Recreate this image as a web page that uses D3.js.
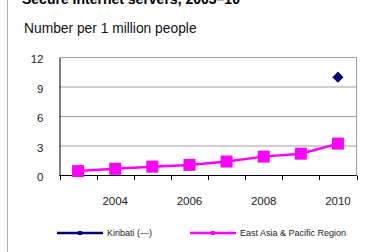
<!DOCTYPE html>
<html>
<head>
<meta charset="utf-8">
<script src="https://cdn.jsdelivr.net/npm/d3@7/dist/d3.min.js"></script>
<style>
  body { margin: 0; background: #fff; }
  svg text { font-family: "Liberation Sans", Arial, sans-serif; }
</style>
</head>
<body>
<div id="chart"></div>
<script>
// Chart data
var years = ['2003', '2004', '2005', '2006', '2007', '2008', '2009', '2010'];
var eastAsia = [0.45, 0.68, 0.9, 1.08, 1.42, 1.92, 2.22, 3.24];
var kiribati = [null, null, null, null, null, null, null, 10.0];
var yTicks = [0, 3, 6, 9, 12];
var xLabels = ['2004', '2006', '2008', '2010'];

var W = 368, H = 252;
var svg = d3.select('#chart').append('svg')
            .attr('width', W)
            .attr('height', H);

// left border of the panel
svg.append('line')
   .attr('x1', 7.5).attr('x2', 7.5)
   .attr('y1', 0).attr('y2', H)
   .attr('stroke', '#b0b0b0');

// title (cut at top, like the original) + subtitle
svg.append('text')
   .attr('x', 22).attr('y', 4)
   .attr('font-size', '14px')
   .attr('font-weight', 'bold')
   .text('Secure Internet servers, 2003–10');

svg.append('text')
   .attr('x', 24).attr('y', 33)
   .attr('font-size', '13.8px')
   .attr('fill', '#111')
   .text('Number per 1 million people');

var x = d3.scaleBand().domain(years).range([59.5, 356.5]);
var y = d3.scaleLinear().domain([0, 12]).range([175.5, 57.5]);

// gridlines
svg.append('g').selectAll('line')
   .data(yTicks.filter(d => d > 0))
   .join('line')
   .attr('x1', 59.5).attr('x2', 356.5)
   .attr('y1', d => y(d)).attr('y2', d => y(d))
   .attr('stroke', '#a0a0a0');

// right frame
svg.append('line')
   .attr('x1', 356.5).attr('x2', 356.5)
   .attr('y1', y(12)).attr('y2', y(0))
   .attr('stroke', '#a0a0a0');

// y axis
var yAxis = svg.append('g')
   .attr('transform', 'translate(59.5,0)')
   .call(d3.axisLeft(y).tickValues(yTicks).tickSize(0).tickPadding(16));
yAxis.select('.domain').attr('stroke', '#000');
yAxis.selectAll('text')
     .attr('font-size', '11.5px')
     .attr('fill', '#222')
     .attr('dy', '0.45em')
     .attr('font-family', '"Liberation Sans", Arial, sans-serif');

// x axis: ticks between bands
var xa = svg.append('g');
xa.append('line')
  .attr('x1', 59.5).attr('x2', 356.5)
  .attr('y1', 175.5).attr('y2', 175.5)
  .attr('stroke', '#000');
xa.selectAll('line.tk')
  .data(years.concat(['end']))
  .join('line')
  .attr('class', 'tk')
  .attr('x1', (d, i) => Math.round(59.5 + i * x.bandwidth()) + 0.5)
  .attr('x2', (d, i) => Math.round(59.5 + i * x.bandwidth()) + 0.5)
  .attr('y1', 175.5).attr('y2', 180)
  .attr('stroke', '#000');
xa.selectAll('text')
  .data(xLabels)
  .join('text')
  .attr('x', d => x(d) + x.bandwidth() / 2)
  .attr('y', 205)
  .attr('text-anchor', 'middle')
  .attr('font-size', '11.5px')
  .attr('fill', '#222')
  .text(d => d);

// East Asia line + markers
var pts = years.map((d, i) => ({ yr: d, v: eastAsia[i] }));
var line = d3.line()
             .x(d => x(d.yr) + x.bandwidth() / 2)
             .y(d => y(d.v));
svg.append('path')
   .datum(pts)
   .attr('d', line)
   .attr('fill', 'none')
   .attr('stroke', '#ff00ff')
   .attr('stroke-width', 2.5);
svg.append('g').selectAll('rect')
   .data(pts)
   .join('rect')
   .attr('x', d => x(d.yr) + x.bandwidth() / 2 - 6)
   .attr('y', d => y(d.v) - 6)
   .attr('width', 12).attr('height', 12)
   .attr('fill', '#ff00ff');

// Kiribati point
var kpts = years.map((d, i) => ({ yr: d, v: kiribati[i] })).filter(d => d.v != null);
svg.append('g').selectAll('path')
   .data(kpts)
   .join('path')
   .attr('d', d3.symbol().type(d3.symbolDiamond2).size(80))
   .attr('transform', d => 'translate(' + (x(d.yr) + x.bandwidth() / 2) + ',' + y(d.v) + ')')
   .attr('fill', '#000080');

// legend
var legend = [
  { name: 'Kiribati (—)', color: '#000080', x0: 57 },
  { name: 'East Asia & Pacific Region', color: '#ff00ff', x0: 190 }
];
var lg = svg.append('g').selectAll('g')
   .data(legend)
   .join('g')
   .attr('transform', d => 'translate(' + d.x0 + ',233)');
lg.append('line')
  .attr('x1', 0).attr('x2', 46)
  .attr('stroke', d => d.color)
  .attr('stroke-width', 2.5);
lg.append('rect')
  .attr('x', 21).attr('y', -2)
  .attr('width', 4).attr('height', 4)
  .attr('fill', d => d.color);
lg.append('text')
  .attr('x', 50).attr('y', 3)
  .attr('font-size', '9px')
  .attr('fill', '#222')
  .text(d => d.name);
</script>
</body>
</html>
